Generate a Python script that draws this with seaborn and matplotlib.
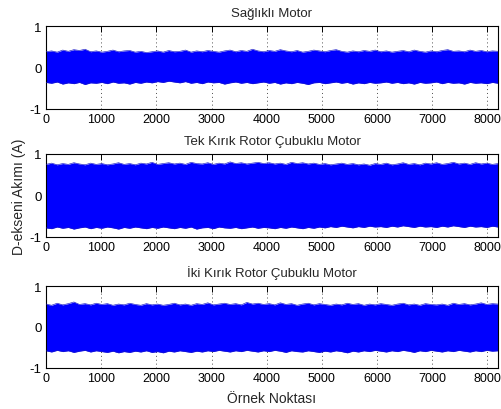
import numpy as np
import pandas as pd
import matplotlib
matplotlib.use("Agg")
import matplotlib.pyplot as plt
import seaborn as sns

# Peak envelope of the d-axis current, one value per 100-sample window
saglikli_ust = [0.38,0.40,0.37,0.42,0.39,0.43,0.41,0.44,0.38,0.40,0.37,0.39,0.42,0.38,0.40,0.41,0.37,0.39,0.36,0.38,
                0.40,0.37,0.41,0.38,0.39,0.42,0.37,0.40,0.38,0.41,0.39,0.37,0.40,0.42,0.38,0.41,0.39,0.44,0.40,0.38,
                0.41,0.39,0.43,0.40,0.38,0.41,0.37,0.39,0.42,0.40,0.38,0.41,0.43,0.39,0.37,0.40,0.38,0.41,0.39,0.42,
                0.38,0.40,0.37,0.39,0.41,0.38,0.42,0.39,0.37,0.40,0.38,0.41,0.43,0.39,0.40,0.38,0.42,0.39,0.41,0.38,
                0.40,0.39]
saglikli_alt = [-0.36,-0.38,-0.35,-0.40,-0.37,-0.39,-0.36,-0.41,-0.37,-0.38,-0.36,-0.39,-0.35,-0.38,-0.37,-0.40,-0.36,-0.38,-0.35,-0.37,
                -0.34,-0.36,-0.33,-0.35,-0.37,-0.34,-0.38,-0.36,-0.39,-0.35,-0.37,-0.36,-0.40,-0.37,-0.35,-0.38,-0.36,-0.39,-0.37,-0.35,
                -0.38,-0.36,-0.40,-0.37,-0.39,-0.36,-0.38,-0.41,-0.37,-0.36,-0.39,-0.37,-0.35,-0.38,-0.36,-0.40,-0.37,-0.39,-0.36,-0.38,
                -0.37,-0.35,-0.38,-0.36,-0.39,-0.37,-0.40,-0.36,-0.38,-0.37,-0.35,-0.39,-0.36,-0.38,-0.37,-0.40,-0.36,-0.38,-0.37,-0.39,
                -0.36,-0.38]
tek_ust = [0.75,0.78,0.74,0.77,0.75,0.79,0.76,0.74,0.78,0.75,0.77,0.74,0.76,0.79,0.75,0.77,0.74,0.78,0.76,0.80,
           0.75,0.77,0.79,0.76,0.78,0.75,0.80,0.77,0.76,0.79,0.75,0.78,0.76,0.81,0.77,0.79,0.76,0.78,0.80,0.77,
           0.79,0.76,0.78,0.75,0.80,0.77,0.79,0.76,0.78,0.75,0.77,0.74,0.76,0.78,0.75,0.77,0.74,0.76,0.73,0.77,
           0.75,0.78,0.74,0.76,0.79,0.75,0.77,0.74,0.78,0.76,0.79,0.75,0.77,0.80,0.76,0.78,0.75,0.79,0.76,0.78,
           0.75,0.77]
tek_alt = [-0.78,-0.80,-0.76,-0.79,-0.77,-0.81,-0.78,-0.76,-0.80,-0.77,-0.79,-0.76,-0.78,-0.81,-0.77,-0.79,-0.76,-0.78,-0.80,-0.77,
           -0.79,-0.76,-0.78,-0.80,-0.77,-0.79,-0.76,-0.81,-0.78,-0.77,-0.80,-0.76,-0.78,-0.79,-0.77,-0.80,-0.78,-0.76,-0.79,-0.77,
           -0.78,-0.80,-0.77,-0.79,-0.76,-0.78,-0.80,-0.77,-0.79,-0.76,-0.78,-0.75,-0.77,-0.74,-0.76,-0.78,-0.75,-0.77,-0.74,-0.76,
           -0.75,-0.77,-0.74,-0.76,-0.73,-0.75,-0.77,-0.74,-0.76,-0.75,-0.77,-0.74,-0.76,-0.73,-0.75,-0.77,-0.74,-0.76,-0.75,-0.77,
           -0.74,-0.76]
iki_ust = [0.56,0.53,0.58,0.54,0.57,0.61,0.55,0.57,0.54,0.58,0.55,0.57,0.53,0.56,0.54,0.58,0.55,0.53,0.57,0.54,
           0.56,0.53,0.55,0.58,0.54,0.56,0.53,0.57,0.55,0.59,0.54,0.56,0.58,0.55,0.57,0.54,0.60,0.56,0.58,0.55,
           0.57,0.54,0.59,0.55,0.57,0.53,0.56,0.58,0.54,0.57,0.55,0.53,0.56,0.54,0.58,0.55,0.57,0.53,0.56,0.54,
           0.57,0.55,0.53,0.56,0.58,0.54,0.56,0.53,0.57,0.55,0.54,0.56,0.53,0.58,0.55,0.57,0.54,0.56,0.59,0.55,
           0.57,0.56]
iki_alt = [-0.58,-0.61,-0.57,-0.60,-0.58,-0.62,-0.59,-0.57,-0.61,-0.58,-0.60,-0.62,-0.59,-0.63,-0.60,-0.62,-0.59,-0.61,-0.58,-0.62,
           -0.60,-0.63,-0.59,-0.61,-0.58,-0.60,-0.62,-0.59,-0.61,-0.58,-0.60,-0.57,-0.59,-0.61,-0.58,-0.60,-0.57,-0.59,-0.61,-0.58,
           -0.60,-0.57,-0.59,-0.62,-0.58,-0.60,-0.61,-0.58,-0.60,-0.62,-0.59,-0.61,-0.58,-0.60,-0.63,-0.59,-0.61,-0.58,-0.60,-0.57,
           -0.59,-0.61,-0.58,-0.60,-0.57,-0.59,-0.62,-0.58,-0.60,-0.57,-0.59,-0.61,-0.58,-0.60,-0.57,-0.59,-0.61,-0.58,-0.60,-0.57,
           -0.59,-0.58]

basliklar = ["Sağlıklı Motor", "Tek Kırık Rotor Çubuklu Motor", "İki Kırık Rotor Çubuklu Motor"]
x_ticks = [0, 1000, 2000, 3000, 4000, 5000, 6000, 7000, 8000]
y_ticks = [-1, 0, 1]
n_ornek = 8192

sns.set_style("white")
plt.rcParams["font.family"] = ["Liberation Sans", "DejaVu Sans"]
plt.rcParams["font.size"] = 9

fig = plt.figure(figsize=(5.02, 4.10), dpi=100)
konumlar = [(46, 27, 110), (46, 155, 238), (46, 287, 369)]
W, H = 502.0, 410.0
sag = 498

zarflar = [(saglikli_ust, saglikli_alt), (tek_ust, tek_alt), (iki_ust, iki_alt)]
mavi = (0, 0, 1)

for (sol, ust, alt), (u, l), baslik in zip(konumlar, zarflar, basliklar):
    ax = fig.add_axes([sol / W, 1 - alt / H, (sag - sol) / W, (alt - ust) / H])
    x = np.linspace(0, n_ornek - 1, len(u))
    df = pd.DataFrame({"ornek": np.concatenate([x, x]),
                       "akim": np.concatenate([u, l]),
                       "kenar": ["ust"] * len(u) + ["alt"] * len(l)})
    ax.fill_between(x, l, u, color=mavi, lw=0, zorder=2)
    sns.lineplot(data=df, x="ornek", y="akim", units="kenar", estimator=None,
                 color="#1818c8", lw=0.45, ax=ax, zorder=3)
    ax.set_xlim(0, n_ornek)
    ax.set_ylim(-1, 1)
    ax.set_xticks(x_ticks)
    ax.set_yticks(y_ticks)
    ax.set_xticklabels([str(t) for t in x_ticks], fontsize=9)
    ax.set_yticklabels([str(t) for t in y_ticks], fontsize=9.5)
    ax.set_xlabel("")
    ax.set_ylabel("")
    ax.grid(True, axis="both", linestyle=(0, (1, 3)), color="0.3", lw=0.7, zorder=1)
    ax.set_axisbelow(True)
    ax.tick_params(direction="in", top=True, right=True, length=4, width=0.7,
                   pad=3, colors="black")
    for s in ax.spines.values():
        s.set_visible(True)
        s.set_color("black")
        s.set_linewidth(0.8)
    ax.set_title(baslik, fontsize=9.5, pad=7)
    if baslik == basliklar[1]:
        ax.set_ylabel("D-ekseni Akımı (A)", fontsize=10, labelpad=3)
    if baslik == basliklar[2]:
        ax.set_xlabel("Örnek Noktası", fontsize=10, labelpad=5)

fig.savefig("out.png", dpi=100)
